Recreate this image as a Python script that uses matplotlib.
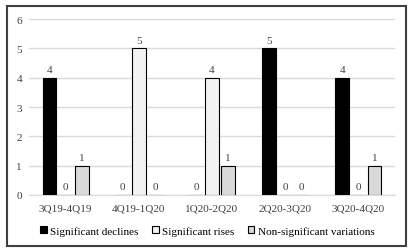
import matplotlib.pyplot as plt
import numpy as np

plt.rcParams['font.family'] = ['Liberation Serif', 'DejaVu Serif']

periods = ["3Q19-4Q19", "4Q19-1Q20", "1Q20-2Q20", "2Q20-3Q20", "3Q20-4Q20"]
declines = [4, 0, 0, 5, 4]
rises = [0, 5, 4, 0, 0]
nonsig = [1, 0, 1, 0, 1]

series = [("Significant declines", declines, "#000000"),
          ("Significant rises", rises, "#f2f2f2"),
          ("Non-significant variations", nonsig, "#d9d9d9")]

fig = plt.figure(figsize=(4.15, 2.53), dpi=100)
# frame around chart
fig.patches.append(plt.Rectangle((7/415, 6/253), 399/415, 240/253, transform=fig.transFigure,
                                 fill=False, edgecolor="#404040", linewidth=1.5))
ax = fig.add_axes([29/415, 57/253, 366/415, 176/253])

x = np.arange(len(periods))
w = 0.19
off = 0.22
for i, (name, vals, col) in enumerate(series):
    pos = x + (i - 1) * off
    ax.bar(pos, vals, w, color=col, edgecolor="#000000", linewidth=0.8, label=name, zorder=3)
    for p, v in zip(pos, vals):
        ax.text(p, v + 0.12, str(v), ha="center", va="bottom", fontsize=8, color="#404040")

ax.set_ylim(0, 6)
ax.set_xlim(-0.5, len(periods) - 0.5)
ax.set_yticks(range(0, 7))
ax.yaxis.grid(True, color="#d9d9d9", linewidth=1.0, zorder=0)
ax.set_xticks(x)
ax.set_xticklabels(periods)
ax.tick_params(axis="both", length=0, labelsize=8, colors="#404040")
ax.tick_params(axis="y", pad=5)
ax.tick_params(axis="x", pad=6)
for s in ["top", "right", "left"]:
    ax.spines[s].set_visible(False)
ax.spines["bottom"].set_color("#d9d9d9")

fig.legend(loc="center", bbox_to_anchor=(0.5, 21/253), ncol=3, frameon=False, fontsize=8,
           handlelength=0.6, handleheight=0.6, handletextpad=0.3, columnspacing=1.2)

fig.savefig("out.png", dpi=100)
